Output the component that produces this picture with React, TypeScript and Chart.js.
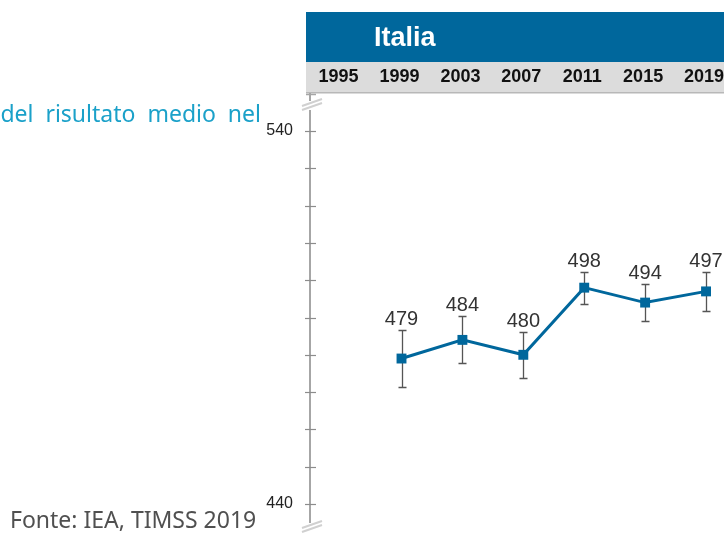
import React, { useEffect, useRef } from "react";
import { Chart, registerables } from "chart.js";

Chart.register(...registerables);

const headerYears = [1995, 1999, 2003, 2007, 2011, 2015, 2019];
const years = [1999, 2003, 2007, 2011, 2015, 2019];
const scores = [479, 484, 480, 498, 494, 497];
const errors = [7.6, 6.3, 6.2, 4.3, 5.0, 5.2];
const yTicks = [440, 450, 460, 470, 480, 490, 500, 510, 520, 530, 540];
const yLabelTicks = [440, 540];
const countryTitle = "Italia";
const sideText = "del risultato medio nel";
const sourceText = "Fonte: IEA, TIMSS 2019";

const BLUE = "#00679c";

const overlayPlugin = {
  id: "overlay",
  beforeDatasetsDraw(chart: any) {
    const ctx = chart.ctx;
    const xs = chart.scales.x;
    const ys = chart.scales.y;
    const ax = chart.chartArea.left;
    ctx.save();
    // header bar
    ctx.fillStyle = BLUE;
    ctx.fillRect(306, 12, 724 - 306, 50);
    ctx.fillStyle = "#dcdcdc";
    ctx.fillRect(306, 62, 724 - 306, 31);
    ctx.fillStyle = "#b8b8b8";
    ctx.fillRect(306, 92, 724 - 306, 1.5);
    ctx.fillStyle = "#ffffff";
    ctx.font = "bold 27px 'Liberation Sans', Arial, sans-serif";
    ctx.textBaseline = "middle";
    ctx.textAlign = "left";
    ctx.fillText(countryTitle, 374, 39);
    ctx.fillStyle = "#111";
    ctx.font = "bold 18px 'Liberation Sans', Arial, sans-serif";
    ctx.textAlign = "center";
    headerYears.forEach((yr) => {
      ctx.fillText(String(yr), xs.getPixelForValue(yr) - 2, 77.5);
    });
    // y axis line with breaks
    ctx.strokeStyle = "#a6a6a6";
    ctx.lineWidth = 2;
    ctx.beginPath();
    ctx.moveTo(ax, 93);
    ctx.lineTo(ax, 101);
    ctx.moveTo(ax, 110);
    ctx.lineTo(ax, 523);
    ctx.stroke();
    ctx.lineWidth = 1.5;
    ctx.beginPath();
    ctx.moveTo(ax - 4, 94.5);
    ctx.lineTo(ax + 6, 94.5);
    ctx.stroke();
    // break marks
    ctx.strokeStyle = "#d0d0d0";
    ctx.lineWidth = 2;
    [105, 527].forEach((cy) => {
      ctx.beginPath();
      ctx.moveTo(ax - 8, cy + 1);
      ctx.lineTo(ax + 12, cy - 6);
      ctx.moveTo(ax - 8, cy + 5);
      ctx.lineTo(ax + 12, cy - 2);
      ctx.stroke();
    });
    // ticks
    ctx.strokeStyle = "#8c8c8c";
    ctx.lineWidth = 1.2;
    yTicks.forEach((v) => {
      const py = Math.round(ys.getPixelForValue(v)) + 0.5;
      ctx.beginPath();
      ctx.moveTo(ax - 5, py);
      ctx.lineTo(ax + 6, py);
      ctx.stroke();
    });
    ctx.fillStyle = "#222";
    ctx.font = "16px 'Liberation Sans', Arial, sans-serif";
    ctx.textAlign = "right";
    ctx.textBaseline = "middle";
    yLabelTicks.forEach((v) => {
      ctx.fillText(String(v), 293, ys.getPixelForValue(v));
    });
    // error bars
    ctx.strokeStyle = "#555";
    ctx.lineWidth = 1.3;
    years.forEach((yr, i) => {
      const px = Math.round(xs.getPixelForValue(yr)) + 0.5;
      const top = Math.round(ys.getPixelForValue(scores[i] + errors[i])) + 0.5;
      const bot = Math.round(ys.getPixelForValue(scores[i] - errors[i])) + 0.5;
      ctx.beginPath();
      ctx.moveTo(px, top);
      ctx.lineTo(px, bot);
      ctx.moveTo(px - 4, top);
      ctx.lineTo(px + 4, top);
      ctx.moveTo(px - 4, bot);
      ctx.lineTo(px + 4, bot);
      ctx.stroke();
    });
    ctx.restore();
  },
  afterDatasetsDraw(chart: any) {
    const ctx = chart.ctx;
    const xs = chart.scales.x;
    const ys = chart.scales.y;
    ctx.save();
    ctx.fillStyle = "#333";
    ctx.font = "20px 'Liberation Sans', Arial, sans-serif";
    ctx.textAlign = "center";
    ctx.textBaseline = "alphabetic";
    years.forEach((yr, i) => {
      const px = xs.getPixelForValue(yr);
      const top = ys.getPixelForValue(scores[i] + errors[i]);
      ctx.fillText(String(scores[i]), px, top - 5);
    });
    ctx.restore();
  },
};

export default function App() {
  const ref = useRef<HTMLCanvasElement | null>(null);
  useEffect(() => {
    if (!ref.current) return;
    const chart = new Chart(ref.current, {
      type: "line",
      data: {
        datasets: [
          {
            data: years.map((yr, i) => ({ x: yr, y: scores[i] })),
            borderColor: BLUE,
            backgroundColor: BLUE,
            borderWidth: 3,
            pointStyle: "rect",
            pointRadius: 7,
            pointBorderWidth: 0,
            pointBackgroundColor: BLUE,
            tension: 0,
          },
        ],
      },
      options: {
        animation: false,
        responsive: false,
        maintainAspectRatio: false,
        layout: { autoPadding: false, padding: { left: 310, right: 0, top: 93, bottom: 5 } },
        plugins: { legend: { display: false }, tooltip: { enabled: false } },
        scales: {
          x: { type: "linear", min: 1992.99, max: 2020.18, display: false },
          y: { type: "linear", min: 433.03, max: 550.19, display: false },
        },
      },
      plugins: [overlayPlugin],
    });
    return () => chart.destroy();
  }, []);
  return (
    <div style={{ position: "fixed", left: 0, top: 0, width: 724, height: 535, background: "#fff", overflow: "hidden" }}>
      <canvas ref={ref} width={724} height={535} style={{ position: "absolute", left: 0, top: 0, width: 724, height: 535 }} />
      <div
        style={{
          position: "absolute",
          right: 724 - 261,
          top: 98,
          whiteSpace: "nowrap",
          fontFamily: "'Noto Sans', sans-serif",
          fontSize: 23,
          color: "#1ba1c9",
          wordSpacing: 6,
          lineHeight: "30px",
        }}
      >
        {sideText}
      </div>
      <div
        style={{
          position: "absolute",
          left: 10,
          top: 504,
          whiteSpace: "nowrap",
          fontFamily: "'Noto Sans', sans-serif",
          fontSize: 23,
          color: "#505050",
          lineHeight: "30px",
        }}
      >
        {sourceText}
      </div>
    </div>
  );
}
